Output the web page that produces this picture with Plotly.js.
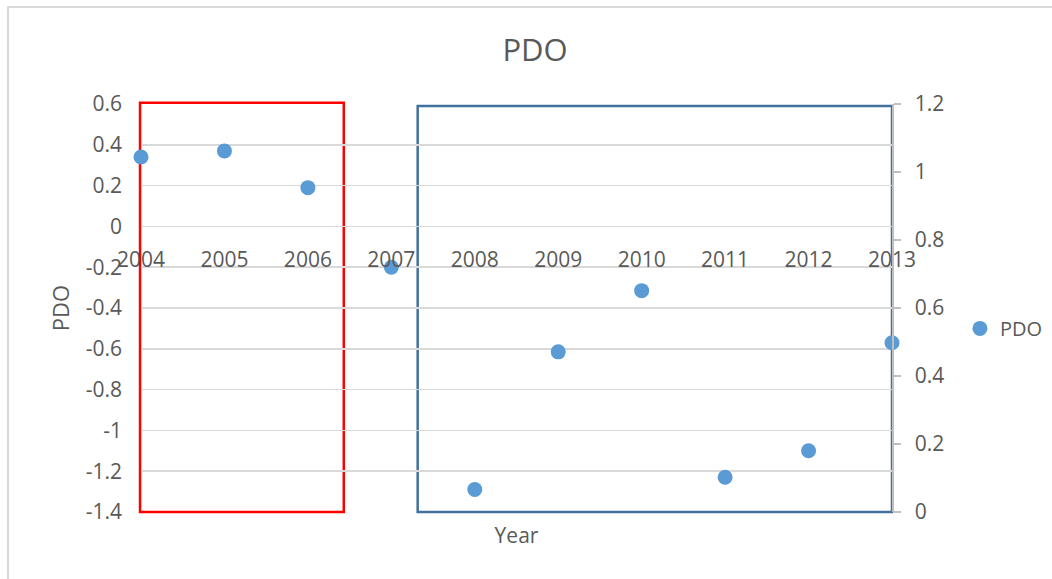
<!DOCTYPE html>
<html>
<head>
<meta charset="utf-8">
<script src="https://cdn.plot.ly/plotly-3.0.1.min.js"></script>
<style>
html,body{margin:0;padding:0;background:#fff;}
#wrap{position:relative;width:1052px;height:579px;overflow:hidden;}
#chart{width:1052px;height:579px;}
#frame{position:absolute;left:7px;top:6px;width:1100px;height:700px;border-left:2px solid #d9d9d9;border-top:2px solid #d9d9d9;pointer-events:none;}
</style>
</head>
<body>
<div id="wrap"><div id="chart"></div><div id="frame"></div></div>
<script>
const years = [2004, 2005, 2006, 2007, 2008, 2009, 2010, 2011, 2012, 2013];
const pdo = [0.34, 0.37, 0.19, -0.20, -1.29, -0.615, -0.315, -1.23, -1.10, -0.57];
const seriesName = 'PDO';
const leftTickVals = [0.6, 0.4, 0.2, 0, -0.2, -0.4, -0.6, -0.8, -1, -1.2, -1.4];
const leftTickText = ['0.6', '0.4', '0.2', '0', '-0.2', '-0.4', '-0.6', '-0.8', '-1', '-1.2', '-1.4'];
const rightTickVals = [0, 0.2, 0.4, 0.6, 0.8, 1, 1.2];
const rightTickText = ['0', '0.2', '0.4', '0.6', '0.8', '1', '1.2'];

const txt = '#595959';
const fontFam = '"Open Sans", "Noto Sans", sans-serif';

const trace = {
  x: years, y: pdo, name: seriesName, type: 'scatter', mode: 'markers',
  marker: {color: '#5b9bd5', size: 15},
  cliponaxis: false
};
const trace2 = {
  x: [years[0]], y: [rightTickVals[0]], yaxis: 'y2', type: 'scatter', mode: 'markers',
  showlegend: false, hoverinfo: 'skip', marker: {opacity: 0}
};

const layout = {
  width: 1052, height: 579,
  margin: {l: 141, r: 160, t: 104, b: 67, autoexpand: false},
  paper_bgcolor: '#fff', plot_bgcolor: 'rgba(0,0,0,0)',
  font: {family: fontFam, color: txt, size: 21},
  title: {text: 'PDO', font: {size: 31, color: txt, family: fontFam}, x: 0.5086, xref: 'container', xanchor: 'center', y: 0.914, yanchor: 'middle'},
  xaxis: {
    range: [2004, 2013], dtick: 1, tick0: 2004, anchor: 'free', position: 0.7,
    showgrid: false, zeroline: false, showline: false, ticks: '',
    tickfont: {size: 21, color: txt}, ticklabelstandoff: 19, automargin: false,
    title: {text: 'Year', font: {size: 21, color: txt}, standoff: 255}
  },
  yaxis: {
    range: [-1.4, 0.6], tickvals: leftTickVals, ticktext: leftTickText, showgrid: true, gridcolor: '#d9d9d9', gridwidth: 1.5,
    zeroline: false, showline: false, ticks: '', tickfont: {size: 21, color: txt},
    ticklabelstandoff: 18, automargin: false,
    title: {text: 'PDO', font: {size: 22, color: txt}, standoff: 10}
  },
  yaxis2: {
    overlaying: 'y', side: 'right', range: [0, 1.2], tickvals: rightTickVals, ticktext: rightTickText,
    showgrid: false, zeroline: false, showline: true, linecolor: '#bfbfbf', linewidth: 1.5,
    ticks: 'outside', ticklen: 7, tickcolor: '#bfbfbf', tickwidth: 1.5,
    tickfont: {size: 21, color: txt}, ticklabelstandoff: 10, automargin: false
  },
  showlegend: true,
  legend: {x: 0.9125, xref: 'container', xanchor: 'left', y: 0.45, yanchor: 'middle', font: {size: 20, color: txt}, bgcolor: 'rgba(0,0,0,0)', itemwidth: 30},
  shapes: [
    {type: 'rect', xref: 'paper', yref: 'paper', x0: -0.0013, x1: 0.27, y0: 0, y1: 1.003,
     line: {color: '#ff0000', width: 2.5}, fillcolor: 'rgba(0,0,0,0)', layer: 'below'},
    {type: 'rect', xref: 'paper', yref: 'paper', x0: 0.3684, x1: 1.0, y0: 0, y1: 0.995,
     line: {color: '#41719c', width: 2.5}, fillcolor: 'rgba(0,0,0,0)', layer: 'below'}
  ]
};

Plotly.newPlot('chart', [trace, trace2], layout, {displayModeBar: false, staticPlot: true});
</script>
</body>
</html>
